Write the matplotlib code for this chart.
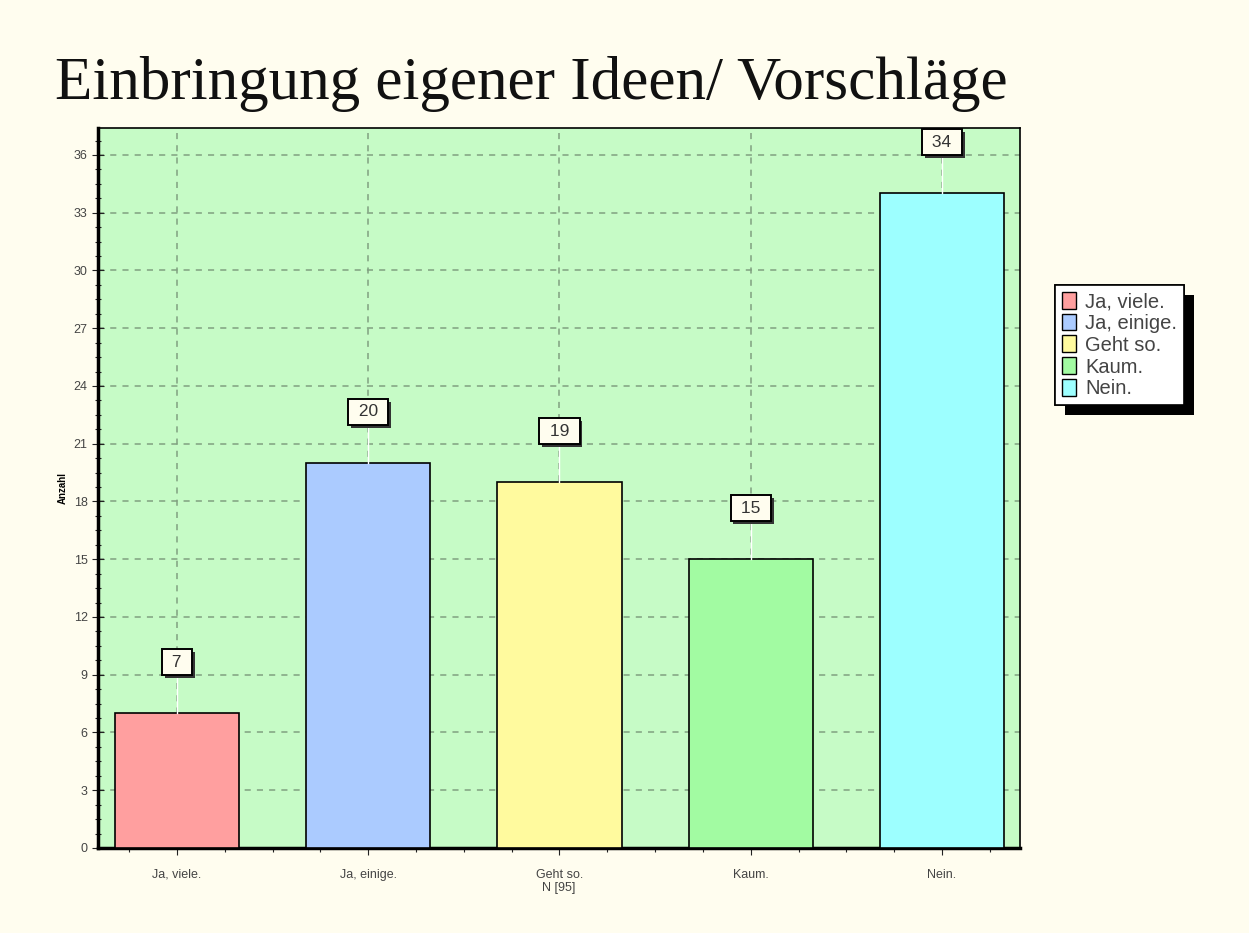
import matplotlib as mpl
mpl.use("Agg")
import matplotlib.pyplot as plt
import matplotlib.patheffects as pe
from matplotlib.ticker import MultipleLocator, FixedLocator
import numpy as np

# chart data
categories = ["Ja, viele.", "Ja, einige.", "Geht so.", "Kaum.", "Nein."]
counts = [7, 20, 19, 15, 34]
bar_colors = ["#ff9f9f", "#abcbff", "#fffa9e", "#a2fba2", "#9dffff"]
title = "Einbringung eigener Ideen/ Vorschläge"
y_label = "Anzahl"
x_label = "N [95]"

bg_color = "#fffdef"
plot_color = "#c6fbc6"

plt.rcParams["font.family"] = ["Liberation Sans", "DejaVu Sans"]

fig = plt.figure(figsize=(12.49, 9.33), dpi=100, facecolor=bg_color)
ax = fig.add_axes([98 / 1249, 1 - 848 / 933, 922 / 1249, 720 / 933])
ax.set_facecolor(plot_color)

x = np.arange(len(categories))
ax.bar(x, counts, width=0.65, color=bar_colors, edgecolor="black",
       linewidth=1.2, zorder=3)

ax.set_xlim(-0.413, 4.408)
ax.set_ylim(0, 37.4)

# ticks
ax.yaxis.set_major_locator(MultipleLocator(3))
ax.yaxis.set_minor_locator(MultipleLocator(0.75))
ax.xaxis.set_major_locator(FixedLocator(x))
ax.xaxis.set_minor_locator(MultipleLocator(0.25))
ax.set_xticklabels(categories)
ax.tick_params(axis="both", which="both", labelsize=9, colors="#222222",
               labelcolor="#444444", width=0.8)
ax.tick_params(axis="y", which="major", direction="inout", length=8)
ax.tick_params(axis="y", which="minor", direction="inout", length=5)
ax.tick_params(axis="x", which="major", direction="out", length=5, pad=10)
ax.tick_params(axis="x", which="minor", direction="out", length=3)

ax.grid(True, which="major", linestyle=(0, (4, 4)), color="#80a080",
        linewidth=1.1, zorder=1)
ax.set_axisbelow(True)

for side in ["left", "bottom"]:
    ax.spines[side].set_linewidth(2.5)
for side in ["top", "right"]:
    ax.spines[side].set_linewidth(1.2)

ax.set_ylabel(y_label, fontsize=7, labelpad=4, fontweight="bold")
ax.set_xlabel(x_label, fontsize=9, color="#444444", labelpad=1)

# value labels with white connector lines
for xi, v in zip(x, counts):
    ax.plot([xi, xi], [v, v + 2.2], color="white", linewidth=1, zorder=4)
    ax.text(xi, v + 2.65, f" {v} ", ha="center", va="center", fontsize=12.5,
            color="#333333", zorder=6,
            bbox=dict(boxstyle="square,pad=0.32", facecolor="#fffdef",
                      edgecolor="black", linewidth=1.4,
                      path_effects=[pe.withSimplePatchShadow(offset=(2, -2),
                                                             shadow_rgbFace="#333333",
                                                             alpha=1)]))

# title
fig.text(55 / 1249, 1 - 84 / 933, title, family="Liberation Serif",
         fontsize=44, ha="left", va="center", color="#111111")

# legend
handles = [mpl.patches.Patch(facecolor=c, edgecolor="black", linewidth=1)
           for c in bar_colors]
leg = fig.legend(handles, categories, loc="upper left",
                 bbox_to_anchor=(1055 / 1249, 1 - 285 / 933),
                 frameon=True, fancybox=False, shadow=False, framealpha=1,
                 fontsize=14.5, handlelength=0.7, handleheight=0.9,
                 handletextpad=0.45, labelspacing=0.12, borderpad=0.35,
                 borderaxespad=0)
leg.get_frame().set_edgecolor("black")
leg.get_frame().set_linewidth(1.2)
leg.get_frame().set_facecolor("white")
leg.get_frame().set_path_effects([pe.withSimplePatchShadow(offset=(7, -7),
                                                           shadow_rgbFace="black",
                                                           alpha=1),
                                  pe.Normal()])
for t in leg.get_texts():
    t.set_color("#444444")

fig.savefig("out.png", dpi=100, facecolor=bg_color)
